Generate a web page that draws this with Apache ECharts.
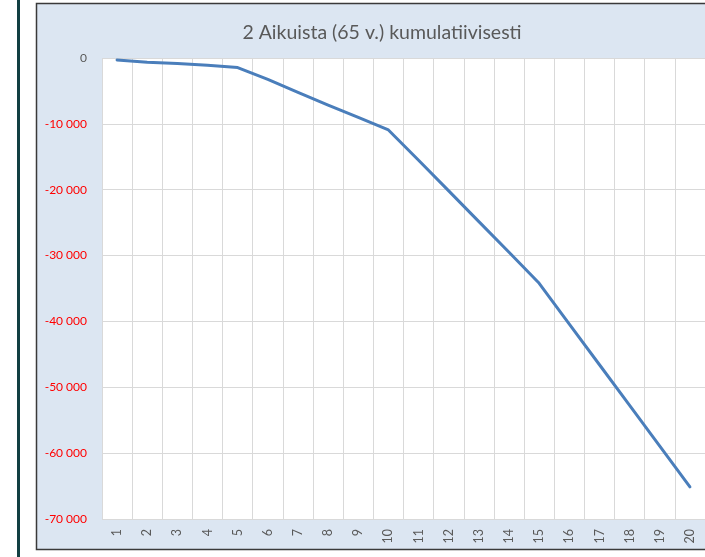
<!DOCTYPE html>
<html>
<head>
<meta charset="utf-8">
<script src="https://cdn.jsdelivr.net/npm/echarts@6/dist/echarts.min.js"></script>
<style>
  html, body { margin: 0; padding: 0; background: #ffffff; }
  #chart { width: 705px; height: 557px; }
</style>
</head>
<body>
<div id="chart"></div>
<script>
// Years 1..20 on the category axis
const years = ['1','2','3','4','5','6','7','8','9','10','11','12','13','14','15','16','17','18','19','20'];
// Cumulative difference in euros, two adults aged 65
const cumulative = [-300, -650, -850, -1100, -1450, -3260, -5210, -7140, -9030, -10930,
                    -15520, -20170, -24840, -29490, -34210, -40400, -46580, -52760, -58930, -65110];
const titleText = '2 Aikuista (65 v.) kumulatiivisesti';
const yMin = -70000, yMax = 0, yStep = 10000;

const fmt = v => {
  const s = String(Math.abs(v)).replace(/\B(?=(\d{3})+(?!\d))/g, ' ');
  return (v < 0 ? '-' : '') + s;
};

const chart = echarts.init(document.getElementById('chart'), null, { renderer: 'canvas' });
chart.setOption({
  animation: false,
  backgroundColor: '#ffffff',
  textStyle: { fontFamily: 'Lato' },
  graphic: [
    { type: 'rect', z: -10, shape: { x: 17, y: 0, width: 3, height: 557 },
      style: { fill: '#123f42' } },
    { type: 'rect', z: -10, shape: { x: 36.5, y: 3.5, width: 700, height: 546 },
      style: { fill: '#dce6f2', stroke: '#3a3a3a', lineWidth: 1.5 } }
  ],
  title: {
    text: titleText,
    left: 377,
    top: 18,
    textAlign: 'center',
    textStyle: { fontFamily: 'Lato', fontSize: 19.5, fontWeight: 'normal', color: '#595959' }
  },
  grid: {
    left: 102, top: 58, width: 606.6, height: 461,
    show: true, backgroundColor: '#ffffff', borderWidth: 0
  },
  xAxis: {
    type: 'category',
    data: years,
    boundaryGap: true,
    axisLine: { show: false },
    axisTick: { show: false },
    splitLine: { show: true, lineStyle: { color: '#d9d9d9', width: 1 } },
    axisLabel: { rotate: 90, fontSize: 12.5, color: '#595959', margin: 10, interval: 0 }
  },
  yAxis: {
    type: 'value',
    min: yMin, max: yMax, interval: yStep,
    axisLine: { show: false },
    axisTick: { show: false },
    splitLine: { show: true, lineStyle: { color: '#d9d9d9', width: 1 } },
    axisLabel: {
      fontSize: 12, margin: 15,
      formatter: v => fmt(v),
      color: v => (Number(v) < 0 ? '#ff0000' : '#595959')
    }
  },
  series: [{
    type: 'line',
    data: cumulative,
    symbol: 'none',
    lineStyle: { color: '#4a7ebb', width: 3, cap: 'round', join: 'round' }
  }]
});
</script>
</body>
</html>
